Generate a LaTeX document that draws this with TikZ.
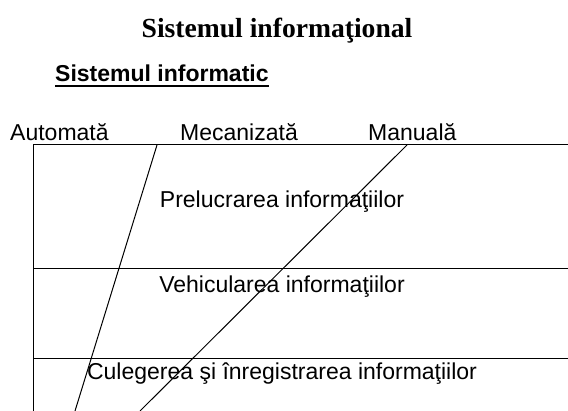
\documentclass[tikz,border=0pt]{standalone}
\usepackage{fontspec}
\setmainfont{Liberation Serif}
\setsansfont{Liberation Sans}
\begin{document}
\begin{tikzpicture}[x=1pt,y=-1pt,
    txt/.style={font=\sffamily\fontsize{23}{28}\selectfont, inner sep=0pt},
    rule/.style={line width=1pt}]
    \useasboundingbox (0,0) rectangle (568,411);
    % headings
    \node[font=\bfseries\fontsize{27.6}{33}\selectfont, inner sep=0pt, anchor=base] (title) at (277,38) {Sistemul informaţional};
    \node[txt, font=\sffamily\bfseries\fontsize{23}{28}\selectfont, anchor=base west] (sub) at (55,82) {Sistemul informatic};
    \draw[line width=2pt] ([yshift=-4.5pt]sub.base west) -- ([yshift=-4.5pt]sub.base east);
    \node[txt, anchor=base west] (auto) at (10,141) {Automată};
    \node[txt, anchor=base west] (meca) at (180,141) {Mecanizată};
    \node[txt, anchor=base west] (manu) at (368,141) {Manuală};
    % box and levels
    \coordinate (tl) at (33,145);
    \coordinate (tr) at (568,145);
    \coordinate (bl) at (33,411);
    \coordinate (m1l) at (33,269);
    \coordinate (m1r) at (568,269);
    \coordinate (m2l) at (33,359);
    \coordinate (m2r) at (568,359);
    \draw[rule] (tr) -- (tl) -- (bl);
    \draw[rule] (m1l) -- (m1r);
    \draw[rule] (m2l) -- (m2r);
    % dividing slants
    \coordinate (a1) at (157,145);
    \coordinate (a2) at (75,411);
    \coordinate (b1) at (407,145);
    \coordinate (b2) at (140,411);
    \draw[rule] (a1) -- (a2);
    \draw[rule] (b1) -- (b2);
    \node[txt, anchor=base] (prel) at (282,208) {Prelucrarea informaţiilor};
    \node[txt, anchor=base] (vehi) at (282,293) {Vehicularea informaţiilor};
    \node[txt, anchor=base] (cule) at (282,380) {Culegerea şi înregistrarea informaţiilor};
\end{tikzpicture}
\end{document}
